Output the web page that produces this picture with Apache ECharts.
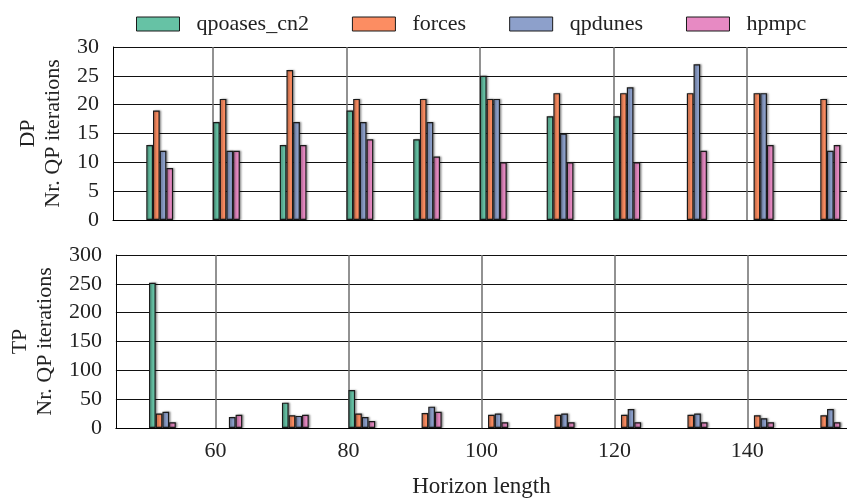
<!DOCTYPE html>
<html><head><meta charset="utf-8">
<script src="https://cdn.jsdelivr.net/npm/echarts@6/dist/echarts.min.js"></script>
<style>html,body{margin:0;padding:0;background:#fff}#c{width:847px;height:503px}</style>
</head><body><div id="c"></div>
<script>
// ---- data ----
const horizons = [50, 60, 70, 80, 90, 100, 110, 120, 130, 140, 150];
const seriesNames = ['qpoases_cn2', 'forces', 'qpdunes', 'hpmpc'];
const dpQpoases = [13, 17, 13, 19, 14, 25, 18, 18, null, null, null];
const dpForces  = [19, 21, 26, 21, 21, 21, 22, 22, 22, 22, 21];
const dpQpdunes = [12, 12, 17, 17, 17, 21, 15, 23, 27, 22, 12];
const dpHpmpc   = [9, 12, 13, 14, 11, 10, 10, 10, 12, 13, 13];
const tpQpoases = [252, null, 44, 66, null, null, null, null, null, null, null];
const tpForces  = [25, null, 22, 25, 26, 23, 23, 23, 23, 22, 22];
const tpQpdunes = [28, 19, 21, 19, 37, 25, 25, 33, 25, 17, 33];
const tpHpmpc   = [10, 23, 23, 12, 28, 10, 10, 10, 10, 10, 10];
const xTickLabels = [60, 80, 100, 120, 140];
const dpYTicks = [0, 5, 10, 15, 20, 25, 30];
const tpYTicks = [0, 50, 100, 150, 200, 250, 300];

// ---- styling ----
const colors = ['#66c2a5', '#fc8d62', '#8da0cb', '#e78ac3'];
const FONT = 'Liberation Serif';
const X_MIN = 45, X_MAX = 155;
const GRID_LEFT = 113, GRID_WIDTH = 737;
const unitPx = GRID_WIDTH / (X_MAX - X_MIN);
const groupShift = 2; // bars of a group start at the horizon value, 4 bars of 1 unit each

function toPairs(vals) {
  const out = [];
  vals.forEach((v, i) => { if (v != null) out.push([horizons[i] + groupShift, v]); });
  return out;
}

const chart = echarts.init(document.getElementById('c'), null, {renderer: 'canvas'});

function xAxis(gridIndex, showLabels) {
  return {
    type: 'value', gridIndex, min: X_MIN, max: X_MAX,
    axisLine: {show: true, onZero: false, lineStyle: {color: '#000', width: 1}},
    axisTick: {show: false, customValues: xTickLabels},
    axisLabel: {show: showLabels, customValues: xTickLabels, margin: 12,
      fontFamily: FONT, fontSize: 22, color: '#222'},
    splitLine: {show: true, lineStyle: {color: '#6e6e6e', width: 1.5}},
    name: showLabels ? 'Horizon length' : '',
    nameLocation: 'middle', nameGap: 47,
    nameTextStyle: {fontFamily: FONT, fontSize: 23, color: '#222'}
  };
}
function yAxis(gridIndex, ticks, name) {
  return {
    type: 'value', gridIndex, min: ticks[0], max: ticks[ticks.length - 1],
    interval: ticks[1] - ticks[0],
    axisLine: {show: true, lineStyle: {color: '#000', width: 1}},
    axisTick: {show: false},
    axisLabel: {margin: 14, fontFamily: FONT, fontSize: 22, color: '#222'},
    splitLine: {show: true, lineStyle: {color: '#111', width: 1}},
    name, nameLocation: 'middle', nameGap: 47,
    nameTextStyle: {fontFamily: FONT, fontSize: 22, lineHeight: 25, color: '#222', align: 'center'}
  };
}

const dpData = [dpQpoases, dpForces, dpQpdunes, dpHpmpc];
const tpData = [tpQpoases, tpForces, tpQpdunes, tpHpmpc];
const series = [];
[dpData, tpData].forEach((set, gi) => {
  set.forEach((vals, si) => {
    series.push({
      name: seriesNames[si], type: 'bar',
      xAxisIndex: gi, yAxisIndex: gi,
      data: toPairs(vals),
      barWidth: unitPx, barGap: '0%',
      itemStyle: {color: colors[si], borderColor: '#1a1a1a', borderWidth: 1.2,
        shadowColor: 'rgba(0,0,0,0.35)', shadowBlur: 2, shadowOffsetX: 1.5, shadowOffsetY: 0},
      emphasis: {disabled: true},
      animation: false
    });
  });
});

chart.setOption({
  animation: false,
  color: colors,
  legend: {
    left: 131, top: 8,
    data: seriesNames.map(n => ({name: n, icon: 'rect'})),
    itemWidth: 43, itemHeight: 14, itemGap: 43,
    itemStyle: {borderColor: '#1a1a1a', borderWidth: 1},
    textStyle: {fontFamily: FONT, fontSize: 22, color: '#222', padding: [0, 0, 0, 12]}
  },
  grid: [
    {left: GRID_LEFT, top: 47, width: GRID_WIDTH, height: 173},
    {left: GRID_LEFT, top: 255, width: GRID_WIDTH, height: 173}
  ],
  xAxis: [xAxis(0, false), xAxis(1, true)],
  yAxis: [yAxis(0, dpYTicks, 'DP\nNr. QP iterations'), yAxis(1, tpYTicks, 'TP\nNr. QP iterations')],
  series
});
</script>
</body></html>
